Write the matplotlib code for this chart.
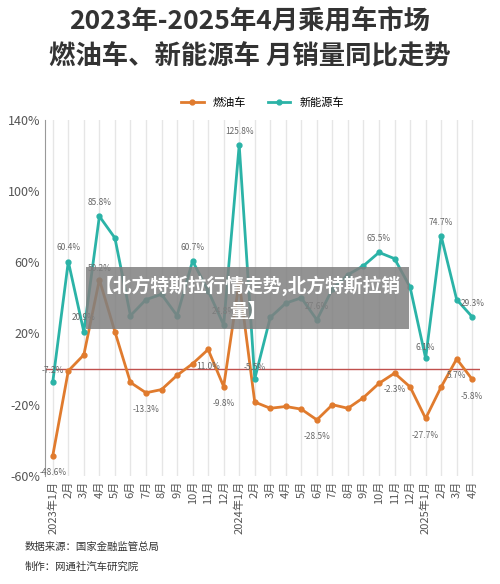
import matplotlib
matplotlib.use("Agg")
import matplotlib.pyplot as plt

plt.rcParams['font.family'] = ['Noto Sans CJK SC', 'DejaVu Sans']

months = ["2023年1月","2月","3月","4月","5月","6月","7月","8月","9月","10月","11月","12月",
          "2024年1月","2月","3月","4月","5月","6月","7月","8月","9月","10月","11月","12月",
          "2025年1月","2月","3月","4月"]
fuel = [-48.6,-1,8,50.2,21,-7.5,-13.3,-11.5,-3.5,3,11.0,-9.8,
        49,-18.5,-22,-21,-22.5,-28.5,-20,-22,-16,-8,-2.3,-10,
        -27.7,-10,5.7,-5.8]
nev = [-7.2,60.4,20.9,85.8,73.6,30,39,42,30,60.7,44,24.8,
       125.8,-5.5,29,37,40,27.6,45,53,58,65.5,62,46,
       6.1,74.7,39,29.3]
fuel_labels = {0:"-48.6%",3:"50.2%",6:"-13.3%",10:"11.0%",11:"-9.8%",17:"-28.5%",22:"-2.3%",24:"-27.7%",26:"5.7%",27:"-5.8%"}
nev_labels = {0:"-7.2%",1:"60.4%",2:"20.9%",3:"85.8%",9:"60.7%",11:"24.8%",12:"125.8%",13:"-5.5%",17:"27.6%",21:"65.5%",24:"6.1%",25:"74.7%",27:"29.3%"}

orange = "#E07B2E"
teal = "#2BB3A7"

fig = plt.figure(figsize=(5.0, 5.84), dpi=100)
ax = fig.add_axes([0.09, 0.185, 0.87, 0.61])
x = list(range(len(months)))
for xi in x:
    ax.axvline(xi, color="#e6e6e6", lw=1, zorder=0)
ax.axhline(0, color="#c0504d", lw=1, zorder=1)
ax.plot(x, fuel, color=orange, lw=2, marker="o", ms=3.5, label="燃油车", zorder=3)
ax.plot(x, nev, color=teal, lw=2, marker="o", ms=3.5, label="新能源车", zorder=3)
for i, t in fuel_labels.items():
    ax.annotate(t, (i, fuel[i]), xytext=(0, -12 if fuel[i] < 20 else 8), textcoords="offset points",
                ha="center", va="center", fontsize=6, color="#666666")
for i, t in nev_labels.items():
    ax.annotate(t, (i, nev[i]), xytext=(0, 10 if i not in (0, 13, 24) else 8), textcoords="offset points",
                ha="center", va="center", fontsize=6, color="#666666")
ax.set_xlim(-0.5, 27.5)
ax.set_ylim(-60, 140)
ax.set_yticks(range(-60, 141, 40))
ax.set_yticklabels([f"{v}%" for v in range(-60, 141, 40)], fontsize=9, color="#555555")
ax.set_xticks(x)
ax.set_xticklabels(months, rotation=90, fontsize=8, color="#555555")
ax.tick_params(length=0)
for s in ["top", "right", "bottom"]:
    ax.spines[s].set_visible(False)
ax.spines["left"].set_color("#999999")

fig.text(0.5, 0.962, "2023年-2025年4月乘用车市场", ha="center", va="center", fontsize=19, fontweight="bold", color="#333333")
fig.text(0.5, 0.903, "燃油车、新能源车 月销量同比走势", ha="center", va="center", fontsize=19, fontweight="bold", color="#333333")
ax.legend(loc="upper center", bbox_to_anchor=(0.5, 1.09), ncol=2, frameon=False, fontsize=8, handlelength=2)

fig.text(0.495, 0.49, "【北方特斯拉行情走势,北方特斯拉销\n量】", ha="center", va="center", fontsize=13.5,
         fontweight="bold", color="white", linespacing=1.4,
         bbox=dict(boxstyle="square,pad=0.45", fc="#808080", ec="none", alpha=0.85))

fig.text(0.05, 0.058, "数据来源：国家金融监管总局", fontsize=7.5, color="#333333")
fig.text(0.05, 0.025, "制作：网通社汽车研究院", fontsize=7.5, color="#333333")
fig.savefig("out.png", dpi=100)
